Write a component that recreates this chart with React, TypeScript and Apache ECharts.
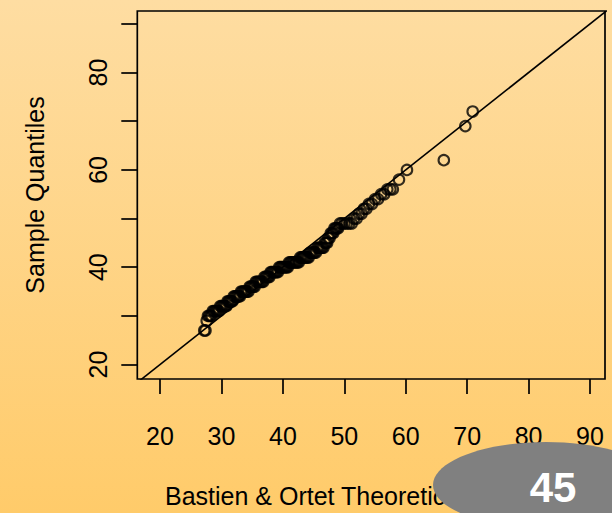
import React, { useEffect, useRef } from "react";
import * as echarts from "echarts";

// Theoretical quantiles (x), one row per sample value below
const theoretical = [
  27.2, 27.4,
  27.6,
  27.8, 28.0, 28.2, 28.4,
  28.6, 28.8, 29.0, 29.2, 29.4, 29.6,
  29.8, 30.0, 30.2, 30.4, 30.6, 30.8,
  31.0, 31.2, 31.4, 31.6, 31.8,
  32.0, 32.2, 32.4, 32.6, 32.8, 33.0,
  33.2, 33.4, 33.6, 33.8, 34.0, 34.2, 34.4,
  34.6, 34.8, 35.0, 35.2, 35.4,
  35.6, 35.8, 36.0, 36.2, 36.4, 36.6, 36.8,
  37.0, 37.2, 37.4, 37.6, 37.8,
  38.0, 38.2, 38.4, 38.6, 38.8, 39.0, 39.2,
  39.4, 39.6, 39.8, 40.0, 40.2, 40.4, 40.6, 40.8,
  41.0, 41.2, 41.4, 41.6, 41.8, 42.0, 42.2, 42.4, 42.6,
  42.8, 43.0, 43.2, 43.4, 43.6, 43.8, 44.0, 44.2,
  44.4, 44.6, 44.8, 45.0, 45.2, 45.4,
  45.6, 45.8, 46.0, 46.2, 46.4, 46.6,
  46.8, 47.0, 47.2,
  47.4, 47.6,
  47.8, 48.0, 48.2,
  48.4, 48.6, 48.8, 49.0,
  49.3, 49.6, 50.0, 50.4, 50.8, 51.2,
  51.6, 52.0,
  52.4, 52.8,
  53.2, 53.6,
  54.0, 54.5,
  55.0, 55.5,
  56.0, 56.5,
  57.0, 57.5, 57.9,
  58.9,
  60.2,
  66.2,
  69.7,
  70.9,
];
// Sorted sample quantiles (whole years)
const sample = [
  27, 27,
  29,
  30, 30, 30, 30,
  31, 31, 31, 31, 31, 31,
  32, 32, 32, 32, 32, 32,
  33, 33, 33, 33, 33,
  34, 34, 34, 34, 34, 34,
  35, 35, 35, 35, 35, 35, 35,
  36, 36, 36, 36, 36,
  37, 37, 37, 37, 37, 37, 37,
  38, 38, 38, 38, 38,
  39, 39, 39, 39, 39, 39, 39,
  40, 40, 40, 40, 40, 40, 40, 40,
  41, 41, 41, 41, 41, 41, 41, 41, 41,
  42, 42, 42, 42, 42, 42, 42, 42,
  43, 43, 43, 43, 43, 43,
  44, 44, 44, 44, 44, 44,
  45, 45, 45,
  46, 46,
  47, 47, 47,
  48, 48, 48, 48,
  49, 49, 49, 49, 49, 49,
  50, 50,
  51, 51,
  52, 52,
  53, 53,
  54, 54,
  55, 55,
  56, 56, 56,
  58,
  60,
  62,
  69,
  72,
];

const xTicks = [20, 30, 40, 50, 60, 70, 80, 90];
const yTicks = [20, 30, 40, 50, 60, 70, 80, 90];
const yTickLabels = [20, 40, 60, 80];
const xRange = [16.3, 92.44];
const yRange = [17.03, 92.65];
// identity reference line y = x
const refLine = [0, 100];

const xTitle = "Bastien & Ortet Theoretical Quantiles";
const yTitle = "Sample Quantiles";
const slideNumber = "45";

const FONT = "'Liberation Sans', Arial, Helvetica, sans-serif";

export default function App() {
  const ref = useRef<HTMLDivElement>(null);

  useEffect(() => {
    if (!ref.current) return;
    const chart = echarts.init(ref.current, null, { renderer: "svg" });
    const points = theoretical.map((x, i) => [x, sample[i]]);

    chart.setOption({
      animation: false,
      backgroundColor: "transparent",
      grid: {
        left: 137.3,
        right: 7,
        top: 11,
        bottom: 130.7,
        show: true,
        borderColor: "#000",
        borderWidth: 1.7,
        backgroundColor: "transparent",
      },
      xAxis: {
        type: "value",
        min: xRange[0],
        max: xRange[1],
        axisLine: { show: false },
        splitLine: { show: false },
        axisTick: {
          show: true,
          customValues: xTicks,
          length: 15,
          lineStyle: { color: "#000", width: 1.7 },
        },
        axisLabel: {
          customValues: xTicks,
          color: "#000",
          fontSize: 25,
          fontFamily: FONT,
          margin: 44,
        },
        name: xTitle,
        nameLocation: "middle",
        nameGap: 104,
        nameTextStyle: { color: "#000", fontSize: 25, fontFamily: FONT },
      },
      yAxis: {
        type: "value",
        min: yRange[0],
        max: yRange[1],
        axisLine: { show: false },
        splitLine: { show: false },
        axisTick: {
          show: true,
          customValues: yTicks,
          length: 16,
          lineStyle: { color: "#000", width: 1.7 },
        },
        axisLabel: {
          customValues: yTickLabels,
          rotate: 90,
          color: "#000",
          fontSize: 25,
          fontFamily: FONT,
          margin: 27,
        },
        name: yTitle,
        nameLocation: "middle",
        nameGap: 90,
        nameTextStyle: { color: "#000", fontSize: 25, fontFamily: FONT },
      },
      series: [
        {
          type: "line",
          data: [
            [refLine[0], refLine[0]],
            [refLine[1], refLine[1]],
          ],
          clip: true,
          symbol: "none",
          silent: true,
          lineStyle: { color: "#000", width: 1.6 },
          z: 1,
        },
        {
          type: "scatter",
          data: points,
          symbol: "circle",
          symbolSize: 10.5,
          itemStyle: {
            color: "rgba(0,0,0,0)",
            borderColor: "#000",
            borderWidth: 2.1,
          },
          z: 2,
        },
      ],
      graphic: [
        {
          type: "ellipse",
          z: 100,
          shape: { cx: 546, cy: 485, rx: 113, ry: 43 },
          style: { fill: "#808080" },
        },
        {
          type: "text",
          z: 101,
          x: 553,
          y: 487,
          style: {
            text: slideNumber,
            fill: "#fff",
            font: `bold 42px ${FONT}`,
            textAlign: "center",
            textVerticalAlign: "middle",
          },
        },
      ],
    });

    return () => chart.dispose();
  }, []);

  return (
    <div
      ref={ref}
      style={{
        position: "absolute",
        left: 0,
        top: 0,
        width: 612,
        height: 513,
        background: "linear-gradient(to bottom, #FEDDA2, #FFCB6A)",
      }}
    />
  );
}
